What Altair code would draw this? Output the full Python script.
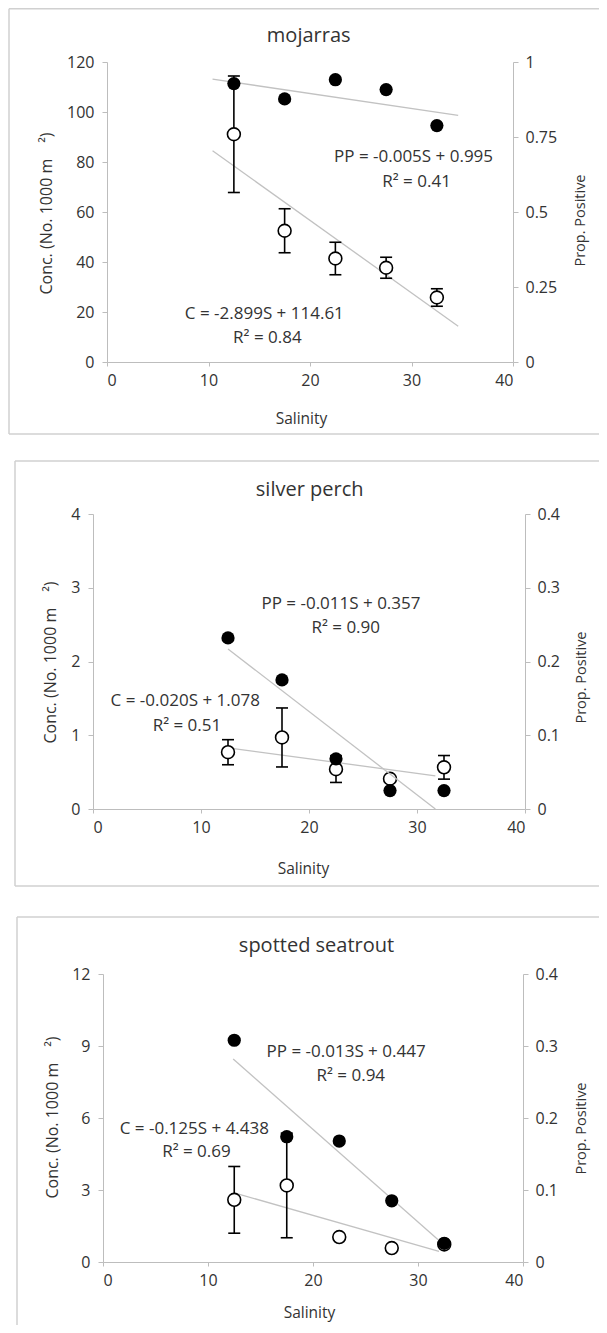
import altair as alt
import pandas as pd

FONT = "Open Sans"
TXT = "#333333"
AXC = "#bdbdbd"
TREND = "#c2c2c2"
FRAME = "#d0d0d0"

W, H = 591, 1317  # whole drawing area (page minus the 8px margins)

salinity = [12.5, 17.5, 22.5, 27.5, 32.5]
x_ticks = [0, 10, 20, 30, 40]

# ---- mojarras ----
moj_conc = [91.1, 52.5, 41.4, 37.7, 25.8]
moj_err = [23.3, 8.8, 6.5, 4.2, 3.5]
moj_pp = [0.928, 0.877, 0.941, 0.908, 0.788]
moj_c_line_x = [10.4, 34.6]
moj_c_line_y = [84.5, 14.3]
moj_pp_line_x = [10.4, 34.6]
moj_pp_line_y = [0.943, 0.822]
moj_ann_text = ["PP = -0.005S + 0.995", "R² = 0.41", "C = -2.899S + 114.61", "R² = 0.84"]
moj_ann_x = [30.2, 30.5, 15.5, 15.8]
moj_ann_y = [82.2, 72.2, 19.4, 9.8]
moj_left_ticks = [0, 20, 40, 60, 80, 100, 120]
moj_right_ticks = [0, 0.25, 0.5, 0.75, 1]

# ---- silver perch ----
sp_conc = [0.77, 0.97, 0.54, 0.41, 0.565]
sp_err = [0.17, 0.40, 0.18, 0.0, 0.16]
sp_pp = [0.232, 0.175, 0.068, 0.025, 0.025]
sp_c_line_x = [12.5, 31.7]
sp_c_line_y = [0.83, 0.45]
sp_pp_line_x = [12.5, 31.7]
sp_pp_line_y = [0.217, 0.0]
sp_ann_text = ["PP = -0.011S + 0.357", "R² = 0.90", "C = -0.020S + 1.078", "R² = 0.51"]
sp_ann_x = [22.96, 23.4, 8.54, 8.7]
sp_ann_y = [2.78, 2.45, 1.46, 1.12]
sp_left_ticks = [0, 1, 2, 3, 4]
sp_right_ticks = [0, 0.1, 0.2, 0.3, 0.4]

# ---- spotted seatrout ----
ss_conc = [2.59, 3.19, 1.04, 0.58, 0.73]
ss_err = [1.39, 2.18, 0.0, 0.0, 0.0]
ss_pp = [0.308, 0.174, 0.168, 0.085, 0.026]
ss_c_line_x = [12.5, 32.0]
ss_c_line_y = [2.88, 0.44]
ss_pp_line_x = [12.4, 32.0]
ss_pp_line_y = [0.282, 0.030]
ss_ann_text = ["PP = -0.013S + 0.447", "R² = 0.94", "C = -0.125S + 4.438", "R² = 0.69"]
ss_ann_x = [23.15, 23.6, 8.7, 8.9]
ss_ann_y = [8.74, 7.73, 5.55, 4.58]
ss_left_ticks = [0, 3, 6, 9, 12]
ss_right_ticks = [0, 0.1, 0.2, 0.3, 0.4]

titles = ["mojarras", "silver perch", "spotted seatrout"]


def axis(**kw):
    base = dict(grid=False, domainColor=AXC, domainWidth=1, tickColor=AXC, tickWidth=1,
                labelFont=FONT, labelFontSize=16, labelColor=TXT,
                titleFont=FONT, titleColor=TXT, titleFontWeight="normal",
                titleAlign="center", titleBaseline="middle")
    base.update(kw)
    return alt.Axis(**base)


def panel(conc, err, pp, clx, cly, plx, ply, atext, ax_, ay_, lticks, rticks, box, lay):
    L, R, T, B = box
    xs = alt.Scale(domain=[0, 40], range=[L, R], nice=False)
    ys = alt.Scale(domain=[lticks[0], lticks[-1]], range=[B, T], nice=False, zero=True)
    rs = alt.Scale(domain=[rticks[0], rticks[-1]], range=[B, T], nice=False, zero=True)
    xa = axis(values=x_ticks, orient="bottom", offset=B - H, title="Salinity", format="d",
              tickSize=4, labelPadding=6, titleFontSize=15.5,
              titleX=lay["xt"][0], titleY=lay["xt"][1])
    ya = axis(values=lticks, orient="left", offset=-L, title="Conc. (No. 1000 m\u2003²)",
              format="d", tickSize=5, labelPadding=8, titleFontSize=16, titleAngle=270,
              titleX=lay["lt"][0], titleY=lay["lt"][1])
    ra = axis(values=rticks, orient="right", offset=R - W, title="Prop. Positive",
              format=".2~f", tickSize=5, labelPadding=7, titleFontSize=14.5, titleAngle=270,
              titleX=lay["rt"][0], titleY=lay["rt"][1])

    df = pd.DataFrame({"s": salinity, "c": conc, "err": err, "pp": pp})
    df["lo"] = df["c"] - df["err"]
    df["hi"] = df["c"] + df["err"]
    dfe = df[df["err"] > 0]
    dcl = pd.DataFrame({"s": clx, "v": cly})
    dpl = pd.DataFrame({"s": plx, "v": ply})
    dann = pd.DataFrame({"s": ax_, "v": ay_, "t": atext})

    XL = alt.X("s:Q", scale=xs, axis=xa)
    XR = alt.X("s:Q", scale=xs, axis=None)

    cline = alt.Chart(dcl).mark_line(color=TREND, strokeWidth=1.3).encode(
        x=XL, y=alt.Y("v:Q", scale=ys, axis=ya))
    erule = alt.Chart(dfe).mark_rule(color="black", strokeWidth=1.6).encode(
        x=XL, y=alt.Y("lo:Q", scale=ys, axis=ya), y2="hi:Q")
    cap_lo = alt.Chart(dfe).mark_tick(orient="horizontal", size=12, thickness=1.6,
                                      color="black", opacity=1).encode(
        x=XL, y=alt.Y("lo:Q", scale=ys, axis=ya))
    cap_hi = alt.Chart(dfe).mark_tick(orient="horizontal", size=12, thickness=1.6,
                                      color="black", opacity=1).encode(
        x=XL, y=alt.Y("hi:Q", scale=ys, axis=ya))
    opts = alt.Chart(df).mark_point(shape="circle", filled=True, fill="white", stroke="black",
                                    strokeWidth=1.6, size=165, opacity=1).encode(
        x=XL, y=alt.Y("c:Q", scale=ys, axis=ya))
    texts = alt.Chart(dann).mark_text(font=FONT, fontSize=17, color=TXT, align="center",
                                      baseline="middle").encode(
        x=XL, y=alt.Y("v:Q", scale=ys, axis=ya), text="t:N")
    left = alt.layer(cline, erule, cap_lo, cap_hi, opts, texts)

    pline = alt.Chart(dpl).mark_line(color=TREND, strokeWidth=1.3).encode(
        x=XR, y=alt.Y("v:Q", scale=rs, axis=ra))
    ppts = alt.Chart(df).mark_circle(color="black", size=175, opacity=1).encode(
        x=XR, y=alt.Y("pp:Q", scale=rs, axis=ra))
    right = alt.layer(pline, ppts)
    return [left, right]


one = pd.DataFrame({"a": [0]})


def rule(x, x2, y, y2):
    enc = dict(x=alt.value(x), y=alt.value(y))
    if x2 is not None:
        enc["x2"] = alt.value(x2)
    if y2 is not None:
        enc["y2"] = alt.value(y2)
    return alt.Chart(one).mark_rule(color=FRAME, strokeWidth=1.5).encode(**enc)


def title_text(t, x, y):
    return alt.Chart(one).mark_text(font=FONT, fontSize=20, color=TXT, align="center",
                                    baseline="alphabetic").encode(
        x=alt.value(x), y=alt.value(y), text=alt.value(t))


deco = alt.layer(
    # mojarras frame
    rule(1, None, 0.75, 426), rule(1, 600, 0.75, None), rule(1, 600, 426, None),
    # silver perch frame
    rule(7, None, 453, 878), rule(7, 600, 453, None), rule(7, 600, 878, None),
    # spotted seatrout frame
    rule(9, None, 909, 1330), rule(9, 600, 909, None),
    title_text(titles[0], 300.7, 34),
    title_text(titles[1], 301.7, 488),
    title_text(titles[2], 308.5, 944),
)

p1 = panel(moj_conc, moj_err, moj_pp, moj_c_line_x, moj_c_line_y, moj_pp_line_x,
           moj_pp_line_y, moj_ann_text, moj_ann_x, moj_ann_y, moj_left_ticks,
           moj_right_ticks, (99, 505, 54, 354),
           {"xt": (293, 56), "lt": (-61, 205), "rt": (67, 212)})
p2 = panel(sp_conc, sp_err, sp_pp, sp_c_line_x, sp_c_line_y, sp_pp_line_x,
           sp_pp_line_y, sp_ann_text, sp_ann_x, sp_ann_y, sp_left_ticks,
           sp_right_ticks, (85, 517, 506, 801),
           {"xt": (295, 59), "lt": (-43, 654), "rt": (56, 669)})
p3 = panel(ss_conc, ss_err, ss_pp, ss_c_line_x, ss_c_line_y, ss_pp_line_x,
           ss_pp_line_y, ss_ann_text, ss_ann_x, ss_ann_y, ss_left_ticks,
           ss_right_ticks, (95, 515, 966, 1254),
           {"xt": (301, 50), "lt": (-51, 1109), "rt": (58, 1120)})

chart = alt.layer(deco, *p1, *p2, *p3).resolve_scale(
    x="independent", y="independent"
).properties(
    width=W, height=H, padding=0, background="white",
    autosize=alt.AutoSizeParams(type="none"),
).configure_view(stroke=None)

chart.save("out.html", embed_options={"renderer": "svg", "actions": False})
